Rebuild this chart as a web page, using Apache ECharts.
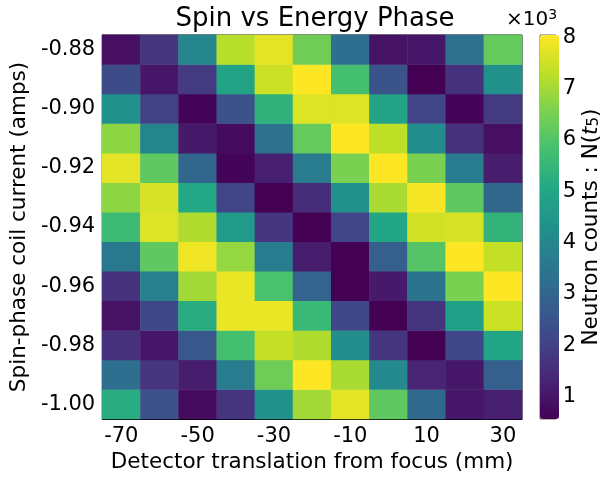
<!DOCTYPE html>
<html>
<head>
<meta charset="utf-8">
<script src="https://cdn.jsdelivr.net/npm/echarts@6/dist/echarts.min.js"></script>
<style>
  html, body { margin: 0; padding: 0; background: #fff; }
  #main { width: 603px; height: 479px; }
</style>
</head>
<body>
<div id="main"></div>
<script>
// x: detector translation (mm), y: coil current (amps), bottom row first
var translations = ['-70', '-60', '-50', '-40', '-30', '-20', '-10', '0', '10', '20', '30'];
var currents = ['-1.00', '-0.99', '-0.98', '-0.97', '-0.96', '-0.95', '-0.94', '-0.93', '-0.92', '-0.91', '-0.90', '-0.89', '-0.88'];

// neutron counts per row (top row -0.88 first)
var row088 = [860, 1680, 4000, 7220, 7740, 6390, 3250, 930, 1010, 3330, 6240];
var row089 = [2280, 1010, 1830, 4900, 7440, 8040, 5800, 2500, 560, 1610, 4300];
var row090 = [4300, 1980, 640, 2430, 5350, 7670, 7670, 4900, 2060, 640, 1830];
var row091 = [6770, 3930, 1080, 780, 3330, 6240, 8040, 7290, 4150, 1610, 860];
var row092 = [7740, 6170, 3030, 640, 1230, 3630, 6540, 8040, 6540, 3630, 1160];
var row093 = [6770, 7590, 5050, 2060, 560, 1530, 4300, 7070, 7970, 6170, 3030];
var row094 = [5650, 7670, 7140, 4600, 1760, 560, 2060, 4970, 7520, 7590, 5420];
var row095 = [3550, 6170, 7890, 6840, 3630, 1160, 560, 2800, 6020, 8040, 7370];
var row096 = [1610, 3780, 6990, 7820, 5870, 2950, 560, 1080, 3400, 6540, 8040];
var row097 = [930, 2130, 5200, 7820, 7820, 5570, 2130, 560, 1680, 4750, 7440];
var row098 = [1610, 1010, 2580, 5800, 7370, 7140, 4230, 1680, 560, 2130, 4970];
var row099 = [3250, 1680, 1160, 3630, 6390, 8040, 7070, 4080, 1310, 1010, 2800];
var row100 = [5200, 2430, 780, 1680, 4300, 6990, 7740, 6170, 3100, 1010, 1230];

var colorTicks = [1000, 2000, 3000, 4000, 5000, 6000, 7000, 8000];
var cmin = 560, cmax = 8040;

var viridis = ['#440154', '#482475', '#414487', '#355f8d', '#2a788e', '#21918c',
               '#22a884', '#44bf70', '#7ad151', '#bddf26', '#fde725'];

var rows = [row100, row099, row098, row097, row096, row095, row094, row093, row092, row091, row090, row089, row088];
var data = [];
rows.forEach(function (r, yi) {
    r.forEach(function (v, xi) {
        data.push([xi, yi, v]);
    });
});

var font = 'DejaVu Sans';
var chart = echarts.init(document.getElementById('main'));
var option = {
    backgroundColor: '#fff',
    animation: false,
    title: {
        text: 'Spin vs Energy Phase',
        left: 310,
        top: 1,
        textAlign: 'center',
        textStyle: { fontFamily: font, fontSize: 26, fontWeight: 'normal', color: '#000' }
    },
    graphic: [{
        type: 'text',
        left: 506,
        top: 8,
        style: {
            text: '×10{sup|3}',
            fontFamily: font, fontSize: 20, fill: '#000',
            rich: { sup: { fontFamily: font, fontSize: 14, verticalAlign: 'top', padding: [0, 0, 9, 0] } }
        }
    }],
    grid: [
        { left: 97, right: 81, top: 35, bottom: 60, show: true, borderColor: '#000', borderWidth: 1 },
        { left: 540, width: 19, top: 35, height: 384, show: true, borderColor: '#666', borderWidth: 1 }
    ],
    xAxis: [{
        type: 'category',
        data: translations,
        gridIndex: 0,
        name: 'Detector translation from focus (mm)',
        nameLocation: 'middle',
        nameGap: 30,
        nameTextStyle: { fontFamily: font, fontSize: 21.5, color: '#000' },
        axisLine: { lineStyle: { color: '#000' } },
        axisTick: { alignWithLabel: true, interval: 0, length: 5, lineStyle: { color: '#000' } },
        axisLabel: { interval: 1, fontFamily: font, fontSize: 21, color: '#000', margin: 7 },
        splitLine: { show: false }
    }, {
        type: 'value', gridIndex: 1, show: false, min: 0, max: 1
    }],
    yAxis: [{
        type: 'category',
        data: currents,
        gridIndex: 0,
        name: 'Spin-phase coil current (amps)',
        nameLocation: 'middle',
        nameGap: 69,
        nameTextStyle: { fontFamily: font, fontSize: 21.5, color: '#000' },
        axisLine: { lineStyle: { color: '#000' } },
        axisTick: { alignWithLabel: true, interval: 0, length: 5, lineStyle: { color: '#000' } },
        axisLabel: { interval: 1, fontFamily: font, fontSize: 21, color: '#000', margin: 7 },
        splitLine: { show: false }
    }, {
        type: 'value',
        gridIndex: 1,
        position: 'right',
        min: cmin,
        max: cmax,
        name: 'Neutron counts : N({it|t}{sub|5})',
        nameLocation: 'middle',
        nameGap: 24,
        nameTextStyle: {
            fontFamily: font, fontSize: 21.5, color: '#000',
            rich: {
                it: { fontFamily: font, fontSize: 21.5, fontStyle: 'italic' },
                sub: { fontFamily: font, fontSize: 15, verticalAlign: 'bottom', padding: [7, 0, 0, 0] }
            }
        },
        axisLine: { show: false },
        axisTick: { show: true, length: 5, lineStyle: { color: '#000' }, customValues: colorTicks },
        axisLabel: {
            fontFamily: font, fontSize: 21, color: '#000', margin: 7,
            customValues: colorTicks,
            formatter: function (v) { return String(Math.round(v / 1000)); }
        },
        splitLine: { show: false }
    }],
    visualMap: {
        type: 'continuous',
        min: cmin,
        max: cmax,
        seriesIndex: 0,
        calculable: false,
        left: 540,
        top: 35,
        padding: 0,
        itemWidth: 19,
        itemHeight: 384,
        text: null,
        inRange: { color: viridis }
    },
    series: [{
        type: 'heatmap',
        xAxisIndex: 0,
        yAxisIndex: 0,
        data: data,
        itemStyle: { borderWidth: 0 },
        emphasis: { disabled: true }
    }]
};
chart.setOption(option);
</script>
</body>
</html>
